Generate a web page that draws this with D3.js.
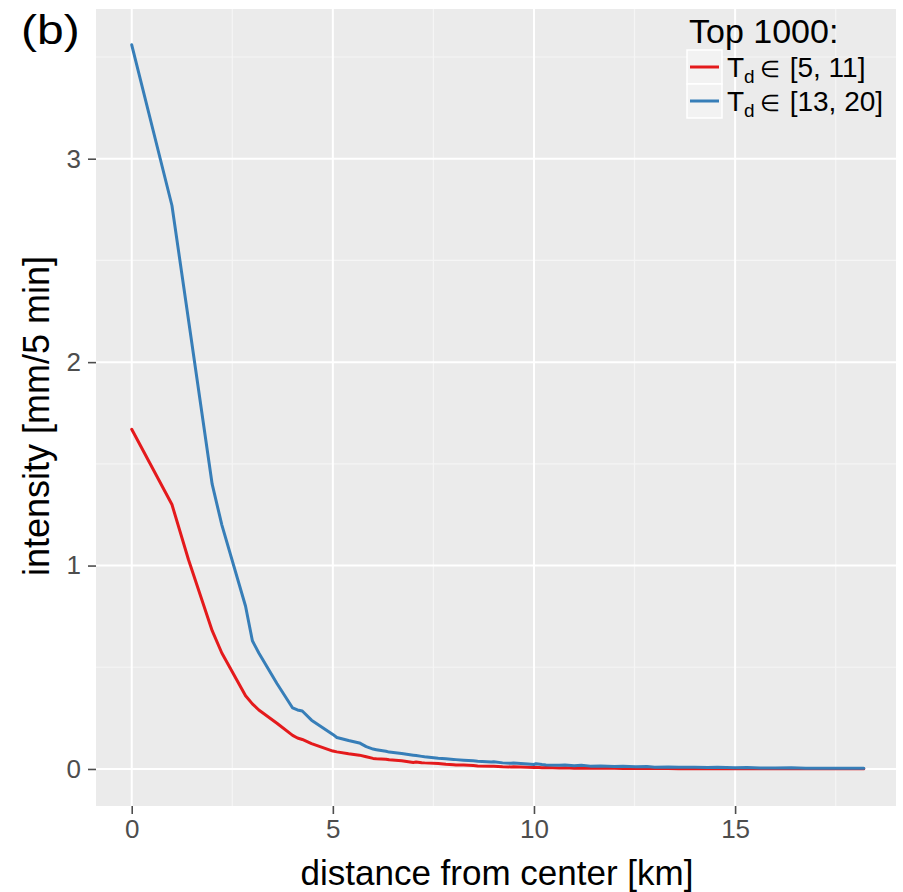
<!DOCTYPE html>
<html>
<head>
<meta charset="utf-8">
<script src="https://cdn.jsdelivr.net/npm/d3@7"></script>
<style>
  html, body { margin: 0; padding: 0; background: #ffffff; }
  svg { display: block; }
  text { font-family: "Liberation Sans", Arial, Helvetica, sans-serif; }
</style>
</head>
<body>
<svg id="chart" width="903" height="892"></svg>
<script>
// ---- data ----
const distances = [0, 1, 1.41, 2, 2.24, 2.83, 3, 3.16, 3.61, 4, 4.12, 4.24, 4.47, 5, 5.1, 5.39, 5.66, 5.83, 6, 6.08, 6.32, 6.4, 6.71, 7, 7.07, 7.21, 7.28, 7.62, 7.81, 8, 8.06, 8.25, 8.49, 8.6, 8.94, 9, 9.22, 9.43, 9.49, 9.85, 10, 10.05, 10.2, 10.3, 10.63, 10.77, 11, 11.18, 11.4, 11.66, 12, 12.21, 12.53, 12.81, 13, 13.34, 13.6, 14, 14.32, 14.56, 15, 15.3, 15.62, 16, 16.4, 16.76, 17, 17.46, 17.8, 18.2];
const blueValues = [3.56, 2.77, 2.21, 1.40, 1.20, 0.80, 0.63, 0.57, 0.42, 0.30, 0.29, 0.285, 0.24, 0.17, 0.155, 0.14, 0.128, 0.11, 0.098, 0.095, 0.087, 0.083, 0.076, 0.068, 0.066, 0.062, 0.060, 0.053, 0.050, 0.047, 0.046, 0.043, 0.040, 0.038, 0.034, 0.036, 0.030, 0.028, 0.029, 0.024, 0.022, 0.026, 0.022, 0.020, 0.018, 0.019, 0.016, 0.018, 0.014, 0.015, 0.012, 0.013, 0.011, 0.012, 0.009, 0.010, 0.008, 0.008, 0.007, 0.008, 0.006, 0.007, 0.005, 0.005, 0.006, 0.004, 0.004, 0.004, 0.003, 0.003];
const redValues = [1.67, 1.30, 1.03, 0.68, 0.57, 0.36, 0.32, 0.29, 0.225, 0.165, 0.152, 0.145, 0.125, 0.088, 0.084, 0.075, 0.068, 0.060, 0.052, 0.050, 0.048, 0.045, 0.040, 0.032, 0.034, 0.031, 0.030, 0.027, 0.023, 0.021, 0.020, 0.019, 0.017, 0.015, 0.013, 0.014, 0.011, 0.010, 0.011, 0.008, 0.007, 0.008, 0.006, 0.007, 0.005, 0.006, 0.004, 0.005, 0.003, 0.004, 0.003, 0.002, 0.003, 0.002, 0.002, 0.002, 0.001, 0.001, 0.001, 0.001, 0.001, 0.001, 0.001, 0.001, 0.001, 0.001, 0.001, 0.001, 0.001, 0.001];
const xTicks = [0, 5, 10, 15];
const xMinor = [2.5, 7.5, 12.5, 17.5];
const yTicks = [0, 1, 2, 3];
const yMinor = [0.5, 1.5, 2.5, 3.5];
const seriesNames = ["[5, 11]", "[13, 20]"];
const seriesColors = ["#e41a1c", "#377eb8"];
const legendTitle = "Top 1000:";
const panelLabel = "(b)";
const xTitle = "distance from center [km]";
const yTitle = "intensity [mm/5 min]";

// ---- layout ----
const panel = { left: 96, right: 896, top: 9, bottom: 806 };
const svg = d3.select("#chart");

const x = d3.scaleLinear().domain([-0.888, 19.0]).range([panel.left, panel.right]);
const y = d3.scaleLinear().domain([-0.182, 3.736]).range([panel.bottom, panel.top]);

svg.append("rect")
  .attr("x", panel.left).attr("y", panel.top)
  .attr("width", panel.right - panel.left).attr("height", panel.bottom - panel.top)
  .attr("fill", "#ebebeb");

const grid = svg.append("g");
grid.selectAll(".xmin").data(xMinor).enter().append("line")
  .attr("x1", d => x(d)).attr("x2", d => x(d))
  .attr("y1", panel.top).attr("y2", panel.bottom)
  .attr("stroke", "#f5f5f5").attr("stroke-width", 1.2);
grid.selectAll(".ymin").data(yMinor).enter().append("line")
  .attr("y1", d => y(d)).attr("y2", d => y(d))
  .attr("x1", panel.left).attr("x2", panel.right)
  .attr("stroke", "#f5f5f5").attr("stroke-width", 1.2);
grid.selectAll(".xmaj").data(xTicks).enter().append("line")
  .attr("x1", d => x(d)).attr("x2", d => x(d))
  .attr("y1", panel.top).attr("y2", panel.bottom)
  .attr("stroke", "#ffffff").attr("stroke-width", 2);
grid.selectAll(".ymaj").data(yTicks).enter().append("line")
  .attr("y1", d => y(d)).attr("y2", d => y(d))
  .attr("x1", panel.left).attr("x2", panel.right)
  .attr("stroke", "#ffffff").attr("stroke-width", 2);

const xAxis = d3.axisBottom(x).tickValues(xTicks).tickSize(8).tickPadding(6).tickFormat(d3.format("d"));
const yAxis = d3.axisLeft(y).tickValues(yTicks).tickSize(8).tickPadding(7).tickFormat(d3.format("d"));

const gx = svg.append("g").attr("transform", `translate(0,${panel.bottom})`).call(xAxis);
const gy = svg.append("g").attr("transform", `translate(${panel.left},0)`).call(yAxis);
[gx, gy].forEach(g => {
  g.select(".domain").remove();
  g.selectAll(".tick line").attr("stroke", "#4d4d4d").attr("stroke-width", 1.6);
  g.selectAll(".tick text").attr("fill", "#4d4d4d").style("font-size", "26px")
    .style("font-family", "'Liberation Sans', Arial, sans-serif");
});

const series = [
  { name: seriesNames[0], color: seriesColors[0], values: redValues },
  { name: seriesNames[1], color: seriesColors[1], values: blueValues }
];
const line = d3.line().x(d => x(d[0])).y(d => y(d[1]));
svg.append("g").selectAll("path").data(series).enter().append("path")
  .attr("d", s => line(distances.map((dd, i) => [dd, s.values[i]])))
  .attr("fill", "none")
  .attr("stroke", s => s.color)
  .attr("stroke-width", 3)
  .attr("stroke-linejoin", "round")
  .attr("stroke-linecap", "round");

svg.append("text")
  .attr("x", 497).attr("y", 885)
  .attr("text-anchor", "middle").style("font-size", "35px").attr("fill", "#000")
  .text(xTitle);
svg.append("text")
  .attr("transform", `translate(49,416) rotate(-90)`)
  .attr("text-anchor", "middle").style("font-size", "36px").attr("fill", "#000")
  .text(yTitle);

svg.append("text")
  .attr("transform", "translate(21,44) scale(1.2,1)")
  .style("font-size", "40px").attr("fill", "#000")
  .text(panelLabel);

const lg = svg.append("g");
lg.append("text").attr("x", 689).attr("y", 43)
  .style("font-size", "34px").attr("fill", "#000").text(legendTitle);
series.forEach((s, i) => {
  const top = 50 + i * 34;
  lg.append("rect").attr("x", 687).attr("y", top).attr("width", 35).attr("height", 34)
    .attr("fill", "#f2f2f2").attr("stroke", "#ffffff").attr("stroke-width", 1.5);
  lg.append("line").attr("x1", 690).attr("x2", 719)
    .attr("y1", top + 17).attr("y2", top + 17)
    .attr("stroke", s.color).attr("stroke-width", 3);
  const t = lg.append("text").attr("x", 727).attr("y", top + 27)
    .style("font-size", "28px").attr("fill", "#000");
  t.append("tspan").text("T");
  t.append("tspan").attr("dy", 6).style("font-size", "19px").text("d");
  t.append("tspan").attr("dy", -6).attr("dx", 5).style("font-size", "23px").text("\u2208");
  t.append("tspan").attr("dx", 10).text(s.name);
});
</script>
</body>
</html>
